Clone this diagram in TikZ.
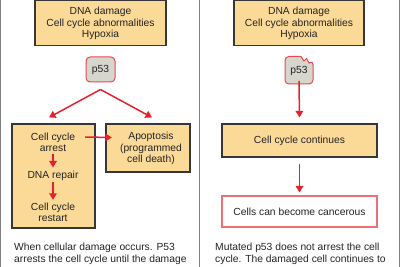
\documentclass[tikz,border=0pt]{standalone}
\usepackage{fontspec}
\setmainfont{Liberation Sans}
\usetikzlibrary{arrows.meta}
\definecolor{boxfill}{RGB}{251,218,152}
\definecolor{boxline}{RGB}{55,55,55}
\definecolor{pfill}{RGB}{214,214,204}
\definecolor{pline}{RGB}{232,72,82}
\definecolor{arr}{RGB}{232,32,44}
\definecolor{cline}{RGB}{238,112,118}
\definecolor{txt}{RGB}{35,35,35}
\definecolor{panel}{RGB}{128,128,128}
\begin{document}
\begin{tikzpicture}[x=1pt,y=-1pt,
  font=\fontsize{10.3}{11.3}\selectfont, text=txt,
  box/.style={draw=boxline, line width=1.1pt, fill=boxfill, inner sep=0pt},
  lbl/.style={inner sep=0pt, align=center, font=\fontsize{10.3}{11.3}\selectfont},
  pbox/.style={draw=pline, line width=1pt, fill=pfill, rounded corners=4pt, inner sep=0pt},
  arrow/.style={draw=arr, line width=1.5pt, -{Triangle[length=6.5pt,width=7.5pt]}},
  captxt/.style={inner sep=0pt, align=left, anchor=north west, font=\fontsize{10.3}{12.3}\selectfont}]
\useasboundingbox (0,0) rectangle (400,267);
% panel borders
\draw[panel, line width=1.3pt] (0.7,0) -- (0.7,267);
\draw[panel, line width=1.3pt] (199.5,0) -- (199.5,267);
\draw[panel, line width=1.3pt] (399.3,0) -- (399.3,267);

% ---------- left panel ----------
\node[box, minimum width=131pt, minimum height=45pt] (ltop) at (100.5,22.8) {};
\node[lbl] (ltoptxt) at (100.5,23.5) {DNA damage\\Cell cycle abnormalities\\Hypoxia};
\node[pbox, minimum width=29pt, minimum height=25pt] (lp53) at (100.5,69.5) {p53};

\node[box, minimum width=83pt, minimum height=104pt] (lbig) at (53.5,176) {};
\node[box, minimum width=84pt, minimum height=48pt] (apop) at (148,148) {};
\node[lbl] (arrest) at (53,142.5) {Cell cycle\\arrest};
\node[lbl] (repair) at (53,175.5) {DNA repair};
\node[lbl] (restart) at (53,212.5) {Cell cycle\\restart};
\node[lbl] (apoptxt) at (151,148.5) {Apoptosis\\(programmed\\cell death)};

\draw[arrow] ([yshift=-7pt]lp53.south) -- ([shift={(-4.5pt,6pt)}]lbig.north);
\draw[arrow] ([yshift=-7pt]lp53.south) -- ([shift={(4pt,6pt)}]apop.north);
\draw[arrow] ([shift={(10pt,5.5pt)}]arrest.east) -- ([shift={(-8pt,11pt)}]apoptxt.west);
\draw[arrow, shorten <=2pt, shorten >=3pt] (arrest.south) -- (repair.north);
\draw[arrow, shorten <=2pt, shorten >=3pt] (repair.south) -- (restart.north);

\node[captxt] (lcap) at (14,243) {When cellular damage occurs. P53\\arrests the cell cycle until the damage};

% ---------- right panel ----------
\node[box, minimum width=130pt, minimum height=45pt] (rtop) at (299,22.8) {};
\node[lbl] (rtoptxt) at (299,23.5) {DNA damage\\Cell cycle abnormalities\\Hypoxia};
\filldraw[draw=pline, fill=pfill, line width=1pt]
  (301,56.5) [rounded corners=4pt] -- (285,56.5) -- (285,84) -- (313,84) -- (313,60.5)
  [sharp corners] -- (309,63) -- (306.5,58.5) -- (304,61) -- cycle;
\node[lbl] (rp53) at (299,71) {p53};

\node[box, minimum width=155pt, minimum height=33pt] (cont) at (299.5,140.5) {Cell cycle continues};
\node[draw=cline, line width=1.1pt, fill=white, inner sep=0pt, minimum width=155pt, minimum height=31pt] (canc) at (299.5,211.5) {Cells can become cancerous};

\draw[arrow] ([yshift=-5pt]rp53.south) -- ([yshift=6pt]cont.north);
\draw[arrow] ([yshift=-6pt]cont.south) -- ([yshift=3pt]canc.north);

\node[captxt] (rcap) at (215,243) {Mutated p53 does not arrest the cell\\cycle. The damaged cell continues to};
\end{tikzpicture}
\end{document}
